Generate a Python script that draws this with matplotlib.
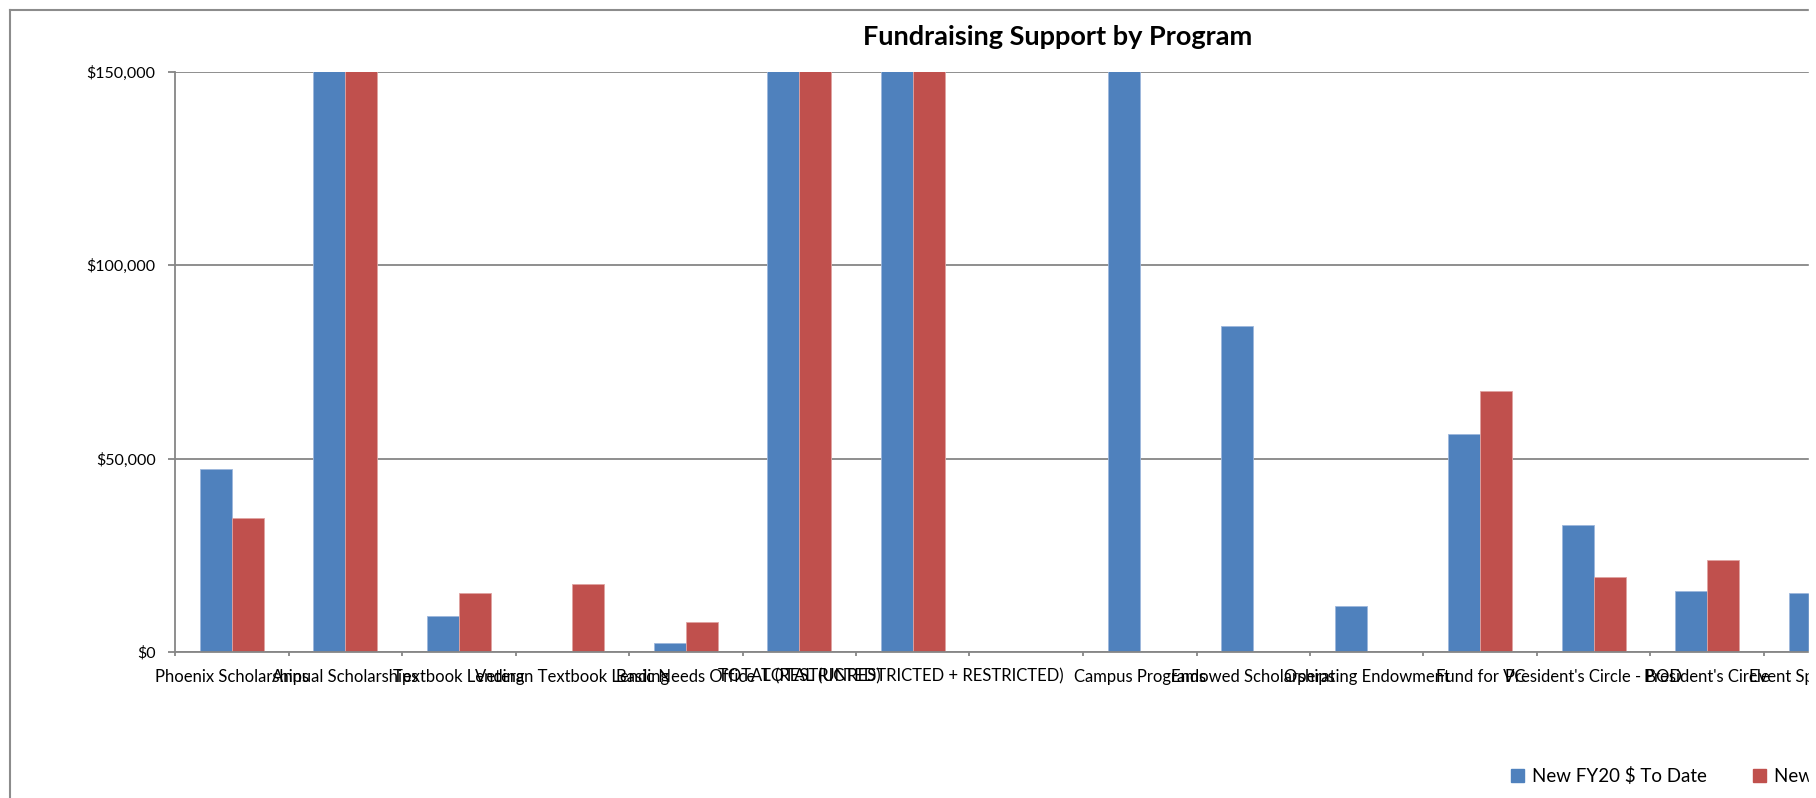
import numpy as np
import matplotlib
matplotlib.use("Agg")
import matplotlib.pyplot as plt
from matplotlib.lines import Line2D
from matplotlib.patches import Rectangle, Patch
from matplotlib.ticker import FuncFormatter

#######################################################
## data (bars above $150,000 are cut off by the axis)
#######################################################
programs = ["Phoenix Scholarships", "Annual Scholarships", "Textbook Lending",
            "Veteran Textbook Lending", "Basic Needs Office", "TOTAL (RESTRICTED)",
            "TOTAL (UNRESTRICTED + RESTRICTED)", "", "Campus Programs",
            "Endowed Scholarships", "Operating Endowment", "Fund for VC",
            "President's Circle - BOD", "President's Circle", "Event Sponsorships"]
fy20 = [47200, 215000, 9300, 0, 2400, 380000, 460000, 0, 175000,
        84200, 12000, 56300, 32900, 15700, 15200]
fy19 = [34600, 198000, 15300, 17700, 7800, 330000, 410000, 0, 0,
        0, 0, 67500, 19400, 23800, 0]
series_names = ["New FY20 $ To Date", "New FY19 $ To Date"]

#######################################################
W, H = 1816, 798
BLUE, RED = "#4F81BD", "#C0504D"
GREY = "#868686"
plt.rcParams["font.family"] = ["Lato", "DejaVu Sans"]

fig = plt.figure(figsize=(W/100, H/100), dpi=100)
n = len(programs)
cat_px = 113.5
ax = fig.add_axes([175/W, 1-652/H, n*cat_px/W, (652-72)/H])

x = np.arange(n)
bw = 0.282
ax.bar(x-bw/2, fy20, bw, color=BLUE, edgecolor="#9db7dc", lw=0.6, label=series_names[0])
ax.bar(x+bw/2, fy19, bw, color=RED, edgecolor="#e0a3a1", lw=0.6, label=series_names[1])

ax.set_xlim(-0.5, n-0.5)
ax.set_ylim(0, 150000)
ax.set_yticks([0, 50000, 100000, 150000])
ax.yaxis.set_major_formatter(FuncFormatter(lambda v, p: "${:,.0f}".format(v)))
ax.yaxis.grid(True, color=GREY, lw=1.3)
ax.set_axisbelow(True)

ax.set_xticks(np.arange(n+1)-0.5)
ax.set_xticklabels([])
ax.set_xticks(x, minor=True)
ax.set_xticklabels(programs, minor=True)
ax.tick_params(axis="x", which="major", length=3, color=GREY, width=1.3)
ax.tick_params(axis="x", which="minor", length=0, pad=12, labelsize=12)
ax.tick_params(axis="y", length=5, color=GREY, width=1.3, pad=9, labelsize=11.5)

for s in ["top", "right"]:
    ax.spines[s].set_visible(False)
for s in ["left", "bottom"]:
    ax.spines[s].set_color(GREY)
    ax.spines[s].set_linewidth(1.3)

fig.text(1058/W, 1-37/H, "Fundraising Support by Program", ha="center", va="center",
         fontsize=19.5, fontweight="bold")

handles = [Patch(color=BLUE), Patch(color=RED)]
fig.legend(handles, series_names, loc="center left", bbox_to_anchor=(1494/W, 1-776/H),
           ncol=2, frameon=False, fontsize=13.5, handlelength=0.7, handleheight=0.7,
           handletextpad=0.4, columnspacing=2.5)

## chart frame, cut at the right like the original
fig.add_artist(Line2D([10/W, 10/W], [0, 1-10/H], color="#8c8c8c", lw=1.5))
fig.add_artist(Line2D([10/W, 1], [1-10/H, 1-10/H], color="#8c8c8c", lw=1.5))
fig.add_artist(Rectangle((1809/W, 0), 7/W, 1, transform=fig.transFigure,
                         color="white", zorder=20))

plt.savefig("out.png", dpi=100)
